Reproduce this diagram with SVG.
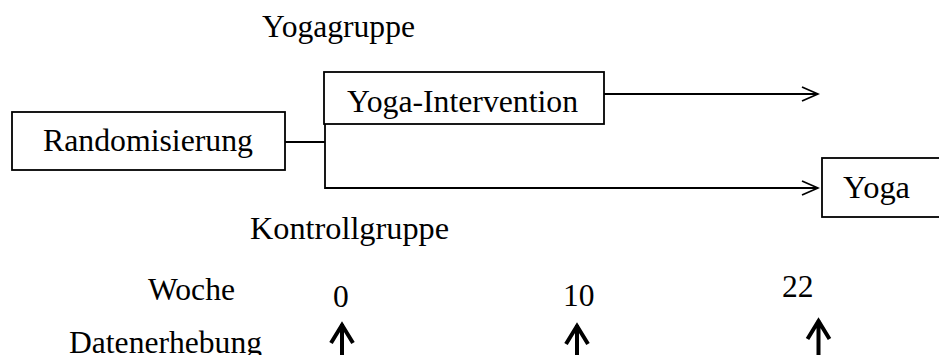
<svg xmlns="http://www.w3.org/2000/svg" width="939" height="355" viewBox="0 0 939 355">
<style>
  text { font-family: "Liberation Serif", "Times New Roman", serif; font-size: 31.5px; fill: #000; }
  .box { fill: #fff; stroke: #000; stroke-width: 1.8; }
  .conn { fill: none; stroke: #000; stroke-width: 1.8; }
  .up { fill: none; stroke: #000; stroke-width: 4; stroke-linejoin: miter; }
</style>
<defs>
  <marker id="open" markerUnits="userSpaceOnUse" markerWidth="20" markerHeight="20" viewBox="-18 -9 20 18" refX="0" refY="0" orient="auto">
    <path d="M -16 -7 L 0 0 L -16 7" fill="none" stroke="#000" stroke-width="1.8"/>
  </marker>
</defs>
<rect width="939" height="355" fill="#fff"/>

<g id="connectors">
  <path class="conn" d="M 285 142 H 325"/>
  <path class="conn" d="M 325 124 V 188 H 818" marker-end="url(#open)"/>
  <path class="conn" d="M 604 94 H 818" marker-end="url(#open)"/>
</g>

<g id="randomisierung">
  <rect class="box" x="12" y="112" width="273" height="58"/>
  <text x="43" y="151" textLength="210" lengthAdjust="spacingAndGlyphs">Randomisierung</text>
</g>

<g id="yoga-intervention">
  <rect class="box" x="324" y="72" width="280" height="52"/>
  <text x="347" y="112" textLength="231" lengthAdjust="spacingAndGlyphs">Yoga-Intervention</text>
</g>

<g id="yoga">
  <rect class="box" x="822" y="158" width="130" height="59"/>
  <text x="843" y="198" textLength="67" lengthAdjust="spacingAndGlyphs">Yoga</text>
</g>

<g id="labels">
  <text x="262" y="37" textLength="153" lengthAdjust="spacingAndGlyphs">Yogagruppe</text>
  <text x="250" y="239" textLength="199" lengthAdjust="spacingAndGlyphs">Kontrollgruppe</text>
  <text x="148" y="300" textLength="87" lengthAdjust="spacingAndGlyphs">Woche</text>
  <text x="69" y="353" textLength="193" lengthAdjust="spacingAndGlyphs">Datenerhebung</text>
  <text x="333" y="307">0</text>
  <text x="563" y="306">10</text>
  <text x="782" y="297">22</text>
</g>

<g id="data-arrows">
  <path class="up" d="M 342 324 V 356 M 331 343 L 342 325 L 353 343"/>
  <path class="up" d="M 577 325 V 356 M 566 344 L 577 326 L 588 344"/>
  <path class="up" d="M 818.5 320 V 356 M 807.5 339 L 818.5 321 L 829.5 339"/>
</g>
</svg>
